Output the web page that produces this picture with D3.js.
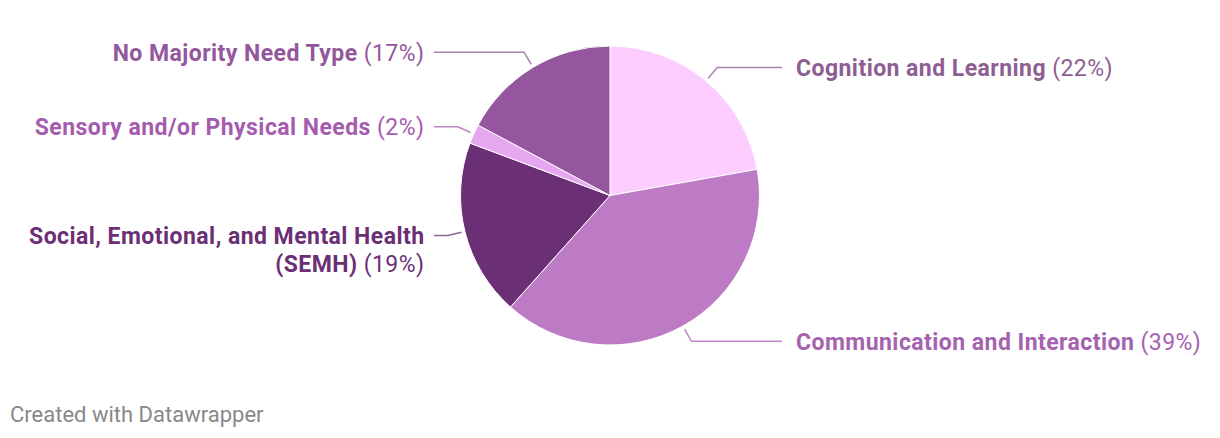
<!DOCTYPE html>
<html>
<head>
<meta charset="utf-8">
<script src="https://cdn.jsdelivr.net/npm/d3@7"></script>
<style>
  html, body { margin: 0; padding: 0; background: #fff; }
  svg { display: block; font-family: Roboto, "Noto Sans", sans-serif; }
</style>
</head>
<body>
<svg id="chart" width="1220" height="438"></svg>
<script>
// Data
const categories = [
  "Cognition and Learning",
  "Communication and Interaction",
  "Social, Emotional, and Mental Health (SEMH)",
  "Sensory and/or Physical Needs",
  "No Majority Need Type"
];
const labelLines = [
  ["Cognition and Learning"],
  ["Communication and Interaction"],
  ["Social, Emotional, and Mental Health", "(SEMH)"],
  ["Sensory and/or Physical Needs"],
  ["No Majority Need Type"]
];
const values = [22.2, 39.4, 19.1, 2.1, 17.2];
const sliceColors = ["#fdcdff", "#be7bc5", "#6b2f75", "#e6a6f0", "#94569c"];
const labelColors = ["#8e5e92", "#a562ae", "#6b2f75", "#a55cae", "#94569c"];

const W = 1220, H = 438;
const cx = 610, cy = 195.5, R = 149.5;
const labelFont = 23;

const svg = d3.select("#chart");
const data = categories.map((c, i) => ({ name: c, lines: labelLines[i], value: values[i], i }));

const pie = d3.pie().value(d => d.value).sort(null).startAngle(0).endAngle(2 * Math.PI);
const arcs = pie(data);
const arc = d3.arc().innerRadius(0).outerRadius(R);

const g = svg.append("g").attr("transform", `translate(${cx},${cy})`);
g.selectAll("path.slice").data(arcs).join("path")
  .attr("class", "slice")
  .attr("d", arc)
  .attr("fill", d => sliceColors[d.data.i])
  .attr("stroke", "#fff")
  .attr("stroke-width", 1)
  .attr("stroke-linejoin", "round");

// Leader lines and labels
const r1 = R + 3.5, r2 = R + 17.5;
const lineEndR = 172, textOff = 186;
arcs.forEach(a => {
  const mid = (a.startAngle + a.endAngle) / 2;
  const sx = Math.sin(mid), sy = -Math.cos(mid);
  const right = sx > 0;
  const p1 = [r1 * sx, r1 * sy];
  const p2 = [r2 * sx, r2 * sy];
  const p3 = [right ? lineEndR : -lineEndR - 4, p2[1]];
  const col = labelColors[a.data.i];
  g.append("path")
    .attr("d", d3.line()([p1, p2, p3]))
    .attr("fill", "none")
    .attr("stroke", col)
    .attr("stroke-opacity", 0.75)
    .attr("stroke-width", 1.5);
  const tx = right ? textOff : -textOff + 0.5;
  const t = g.append("text")
    .attr("x", tx)
    .attr("y", p2[1])
    .attr("text-anchor", right ? "start" : "end")
    .attr("fill", col)
    .style("font-size", labelFont + "px")
    .style("letter-spacing", "0.45px");
  const pct = " (" + Math.round(a.data.value) + "%)";
  const lines = a.data.lines;
  lines.forEach((ln, li) => {
    const ts = t.append("tspan")
      .attr("x", tx)
      .attr("dy", li === 0 ? "0.36em" : "1.22em");
    ts.append("tspan").attr("font-weight", 700).text(ln);
    if (li === lines.length - 1) ts.append("tspan").attr("font-weight", 400).text(pct);
  });
});

// Footer
svg.append("text")
  .attr("x", 10)
  .attr("y", 422)
  .attr("fill", "#888888")
  .style("font-size", "22px")
  .text("Created with Datawrapper");
</script>
</body>
</html>
